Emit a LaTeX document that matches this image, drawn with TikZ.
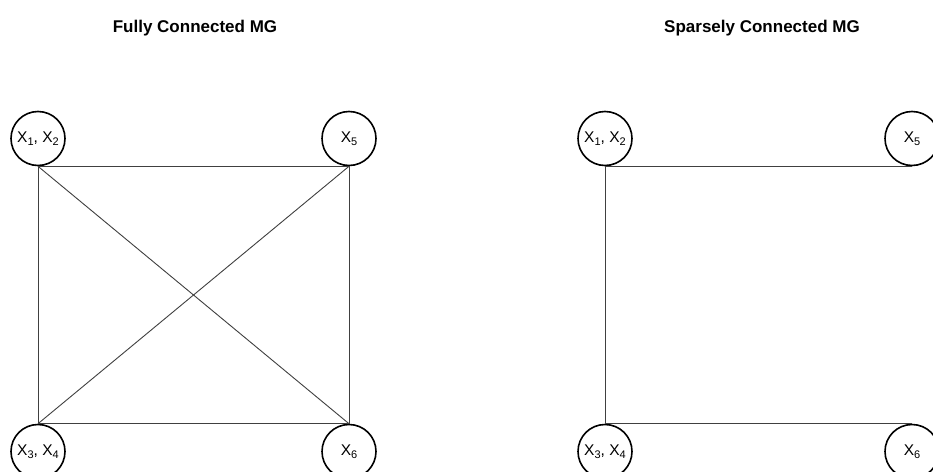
\documentclass[tikz,border=0pt]{standalone}
\usepackage{fontspec}
\setmainfont{Liberation Sans}
\newcommand{\sbx}[1]{\raisebox{-0.22em}{\fontsize{11}{12}\selectfont #1}}
\begin{document}
\begin{tikzpicture}[x=1pt,y=-1pt,
  mgnode/.style={circle,draw=black,line width=1.6pt,minimum size=54pt,inner sep=0pt,
    font=\fontsize{15.5}{17}\selectfont},
  mgedge/.style={draw=black!75,line width=0.9pt},
  mgtitle/.style={font=\bfseries\fontsize{17}{20}\selectfont,anchor=base}]
\useasboundingbox (0,0) rectangle (933,471);
\clip (0,0) rectangle (933,471);
\fill[white] (0,0) rectangle (933,471);

% titles
\node[mgtitle] (t1) at (195,32) {Fully Connected MG};
\node[mgtitle] (t2) at (762,32) {Sparsely Connected MG};

% fully connected graph
\node[mgnode] (a12) at (38,138.5) {X\sbx{1}, X\sbx{2}};
\node[mgnode] (a5)  at (349,138.5) {X\sbx{5}};
\node[mgnode] (a34) at (38,451.5) {X\sbx{3}, X\sbx{4}};
\node[mgnode] (a6)  at (349,451.5) {X\sbx{6}};
\draw[mgedge] (a12.south) -- (a5.south);
\draw[mgedge] (a12.south) -- (a34.north);
\draw[mgedge] (a12.south) -- (a6.north);
\draw[mgedge] (a34.north) -- (a6.north);
\draw[mgedge] (a34.north) -- (a5.south);
\draw[mgedge] (a5.south) -- (a6.north);

% sparsely connected graph
\node[mgnode] (b12) at (605,138.5) {X\sbx{1}, X\sbx{2}};
\node[mgnode] (b5)  at (912,138.5) {X\sbx{5}};
\node[mgnode] (b34) at (605,451.5) {X\sbx{3}, X\sbx{4}};
\node[mgnode] (b6)  at (912,451.5) {X\sbx{6}};
\draw[mgedge] (b12.south) -- (b5.south);
\draw[mgedge] (b12.south) -- (b34.north);
\draw[mgedge] (b34.north) -- (b6.north);
\end{tikzpicture}
\end{document}
